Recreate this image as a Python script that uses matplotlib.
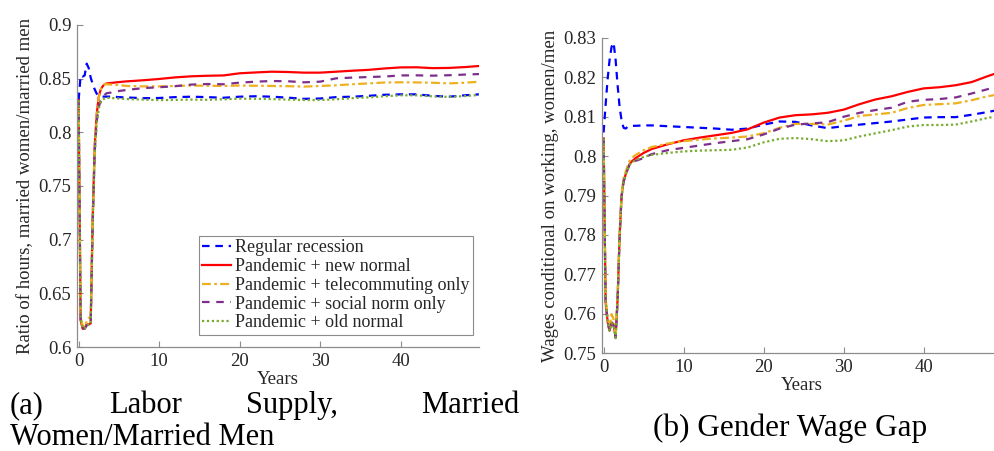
import matplotlib
matplotlib.use("Agg")
import matplotlib.pyplot as plt
from matplotlib.ticker import FuncFormatter, MultipleLocator

# =========================
# DATA
# =========================
YEARS = [0, 0.25, 0.5, 0.75, 1.0, 1.25, 1.5, 1.75, 2.0, 2.25, 2.5, 2.75, 3.0, 3.25, 3.5,
         4, 5, 6, 8, 10, 12, 14, 16, 18, 20, 22, 24, 26, 28, 30, 32, 34, 36, 38, 40,
         42, 44, 46, 48, 49.75]

SCENARIOS = [
    "Regular recession",
    "Pandemic + new normal",
    "Pandemic + telecommuting only",
    "Pandemic + social norm only",
    "Pandemic + old normal",
]

# Ratio of hours, married women / married men
hours_regular = [0.830, 0.853, 0.852, 0.853, 0.864, 0.860, 0.851, 0.845, 0.840, 0.836, 0.834, 0.8335, 0.8333, 0.8333, 0.8333,
                 0.8333, 0.8328, 0.8325, 0.8318, 0.8320, 0.8328, 0.8332, 0.8328, 0.8322, 0.8332, 0.8336, 0.8332, 0.8323,
                 0.8312, 0.8315, 0.8328, 0.8332, 0.8340, 0.8350, 0.8354, 0.8354, 0.8340, 0.8332, 0.8345, 0.8354]
hours_new_normal = [0.830, 0.625, 0.617, 0.617, 0.621, 0.621, 0.622, 0.720, 0.788, 0.817, 0.833, 0.840, 0.843, 0.845, 0.8455,
                    0.8460, 0.8468, 0.8475, 0.8485, 0.8497, 0.8512, 0.8522, 0.8527, 0.8530, 0.8550, 0.8558, 0.8565, 0.8562,
                    0.8556, 0.8556, 0.8565, 0.8574, 0.8582, 0.8595, 0.8605, 0.8606, 0.8598, 0.8600, 0.8608, 0.8618]
hours_telecommuting = [0.830, 0.628, 0.620, 0.619, 0.624, 0.627, 0.627, 0.720, 0.786, 0.815, 0.832, 0.840, 0.843, 0.845, 0.8448,
                       0.8445, 0.8440, 0.8432, 0.8428, 0.8428, 0.8432, 0.8436, 0.8434, 0.8432, 0.8436, 0.8434, 0.8432, 0.8430,
                       0.8426, 0.8432, 0.8438, 0.8448, 0.8456, 0.8464, 0.8466, 0.8465, 0.8462, 0.8456, 0.8462, 0.8472]
hours_social_norm = [0.830, 0.626, 0.618, 0.617, 0.620, 0.621, 0.621, 0.715, 0.782, 0.810, 0.824, 0.829, 0.832, 0.835, 0.8365,
                     0.8370, 0.8385, 0.8395, 0.8412, 0.8420, 0.8430, 0.8445, 0.8450, 0.8448, 0.8463, 0.8472, 0.8478, 0.8476,
                     0.8466, 0.8472, 0.8503, 0.8510, 0.8515, 0.8520, 0.8530, 0.8531, 0.8528, 0.8532, 0.8538, 0.8543]
hours_old_normal = [0.830, 0.626, 0.618, 0.617, 0.620, 0.621, 0.621, 0.715, 0.780, 0.808, 0.822, 0.828, 0.830, 0.832, 0.8322,
                    0.8320, 0.8315, 0.8310, 0.8305, 0.8300, 0.8302, 0.8305, 0.8303, 0.8308, 0.8314, 0.8312, 0.8310, 0.8305,
                    0.8301, 0.8301, 0.8308, 0.8318, 0.8326, 0.8336, 0.8345, 0.8345, 0.8335, 0.8330, 0.8338, 0.8348]

# Wages conditional on working, women / men
wages_regular = [0.8060, 0.8130, 0.8195, 0.8245, 0.8278, 0.8288, 0.8245, 0.8180, 0.8125, 0.8090, 0.8072, 0.8070, 0.8074, 0.8076, 0.8077,
                 0.8077, 0.8078, 0.8078, 0.8076, 0.8074, 0.8072, 0.8070, 0.8067, 0.8070, 0.8080, 0.8088, 0.8087, 0.8078,
                 0.8071, 0.8076, 0.8080, 0.8084, 0.8088, 0.8093, 0.8098, 0.8099, 0.8099, 0.8105, 0.8112, 0.8119]
wages_new_normal = [0.8045, 0.7630, 0.7580, 0.7557, 0.7578, 0.7573, 0.7540, 0.7637, 0.7797, 0.7900, 0.7937, 0.7953, 0.7968, 0.7980, 0.7986,
                    0.7995, 0.8008, 0.8018, 0.8030, 0.8040, 0.8047, 0.8053, 0.8059, 0.8068, 0.8085, 0.8098, 0.8104, 0.8106,
                    0.8110, 0.8118, 0.8132, 0.8144, 0.8152, 0.8163, 0.8172, 0.8175, 0.8180, 0.8188, 0.8203, 0.8215]
wages_telecommuting = [0.8045, 0.7640, 0.7590, 0.7565, 0.7599, 0.7585, 0.7550, 0.7650, 0.7805, 0.7905, 0.7945, 0.7960, 0.7975, 0.7988, 0.7995,
                       0.8003, 0.8015, 0.8023, 0.8032, 0.8038, 0.8042, 0.8045, 0.8047, 0.8050, 0.8058, 0.8072, 0.8082, 0.8082,
                       0.8080, 0.8090, 0.8102, 0.8106, 0.8110, 0.8122, 0.8130, 0.8132, 0.8134, 0.8142, 0.8152, 0.8158]
wages_social_norm = [0.8045, 0.7630, 0.7578, 0.7555, 0.7575, 0.7570, 0.7538, 0.7635, 0.7795, 0.7898, 0.7935, 0.7952, 0.7966, 0.7978, 0.7984,
                     0.7988, 0.7995, 0.8005, 0.8015, 0.8021, 0.8027, 0.8033, 0.8038, 0.8043, 0.8055, 0.8070, 0.8080, 0.8083,
                     0.8086, 0.8100, 0.8110, 0.8117, 0.8123, 0.8138, 0.8143, 0.8145, 0.8149, 0.8159, 0.8170, 0.8180]
wages_old_normal = [0.8045, 0.7630, 0.7580, 0.7556, 0.7576, 0.7571, 0.7538, 0.7636, 0.7796, 0.7899, 0.7935, 0.7952, 0.7966, 0.7978, 0.7983,
                    0.7990, 0.7998, 0.8003, 0.8008, 0.8012, 0.8014, 0.8015, 0.8016, 0.8022, 0.8035, 0.8044, 0.8046, 0.8043,
                    0.8038, 0.8040, 0.8050, 0.8058, 0.8066, 0.8075, 0.8079, 0.8079, 0.8080, 0.8088, 0.8097, 0.8103]

HOURS_TICKS = [0.6, 0.65, 0.7, 0.75, 0.8, 0.85, 0.9]
WAGES_TICKS = [0.75, 0.76, 0.77, 0.78, 0.79, 0.8, 0.81, 0.82, 0.83]

# =========================
# STYLE (MATLAB default line colours)
# =========================
LINE_STYLES = [
    dict(color="#0000FF", linestyle=(0, (3.4, 2.6)), linewidth=1.6),
    dict(color="#FF0000", linestyle="-", linewidth=1.6),
    dict(color="#EDB120", linestyle=(0, (4, 1.5, 1.2, 1.5)), linewidth=1.6),
    dict(color="#7E2F8E", linestyle=(0, (3.4, 3.0)), linewidth=1.6),
    dict(color="#77AC30", linestyle=(0, (1, 1.2)), linewidth=1.6),
]
AXIS_COLOR = "#8c8c8c"
TEXT_COLOR = "#262626"
FONT = "Liberation Serif"
LABEL_SIZE = 13.5

plt.rcParams["font.family"] = FONT


def style_axis(ax, yticks, ylabel):
    ax.set_xlim(-0.2, 49.75)
    ax.set_ylim(yticks[0], yticks[-1])
    ax.set_yticks(yticks)
    ax.xaxis.set_major_locator(MultipleLocator(10))
    ax.yaxis.set_major_formatter(FuncFormatter(lambda v, _: f"{v:g}"))
    for side in ("top", "right"):
        ax.spines[side].set_visible(False)
    for side in ("left", "bottom"):
        ax.spines[side].set_color(AXIS_COLOR)
        ax.spines[side].set_linewidth(0.9)
    ax.tick_params(direction="in", length=4, width=0.8, color=AXIS_COLOR,
                   labelcolor=TEXT_COLOR, labelsize=LABEL_SIZE, pad=4)
    ax.set_xlabel("Years", fontsize=LABEL_SIZE, color=TEXT_COLOR, labelpad=1)
    ax.set_ylabel(ylabel, fontsize=LABEL_SIZE, color=TEXT_COLOR, labelpad=3)


fig = plt.figure(figsize=(9.95, 4.51), dpi=100, facecolor="white")
W, H = 995.0, 451.0

# Left panel: hours ratio
ax1 = fig.add_axes([77 / W, (H - 347) / H, 402 / W, 322 / H])
hours = [hours_regular, hours_new_normal, hours_telecommuting, hours_social_norm, hours_old_normal]
for name, vals, st in zip(SCENARIOS, hours, LINE_STYLES):
    ax1.plot(YEARS, vals, label=name, **st)
style_axis(ax1, HOURS_TICKS, "Ratio of hours, married women/married men")

leg = ax1.legend(loc="lower right", bbox_to_anchor=(0.985, 0.037), borderaxespad=0,
                 fontsize=13, handlelength=1.6, handletextpad=0.2, labelspacing=0.1,
                 borderpad=0.2, fancybox=False, framealpha=1, edgecolor=AXIS_COLOR)
leg.get_frame().set_linewidth(0.8)
for t in leg.get_texts():
    t.set_color(TEXT_COLOR)

# Right panel: gender wage gap (axes runs past the right edge of the figure)
ax2 = fig.add_axes([602 / W, (H - 353) / H, 399.6 / W, 315 / H])
wages = [wages_regular, wages_new_normal, wages_telecommuting, wages_social_norm, wages_old_normal]
for name, vals, st in zip(SCENARIOS, wages, LINE_STYLES):
    ax2.plot(YEARS, vals, label=name, **st)
style_axis(ax2, WAGES_TICKS, "Wages conditional on working, women/men")

# Sub-figure captions (first caption line is justified)
cap = dict(fontsize=22, color="black", va="baseline", ha="left")
for word, x in [("(a)", 10), ("Labor", 109), ("Supply,", 246), ("Married", 421)]:
    fig.text(x / W, (H - 413) / H, word, **cap)
fig.text(10 / W, (H - 445) / H, "Women/Married Men", **cap)
fig.text(790 / W, (H - 436) / H, "(b) Gender Wage Gap", fontsize=22.5, color="black",
         va="baseline", ha="center")

fig.savefig("out.png", dpi=100, facecolor="white")
plt.close(fig)
